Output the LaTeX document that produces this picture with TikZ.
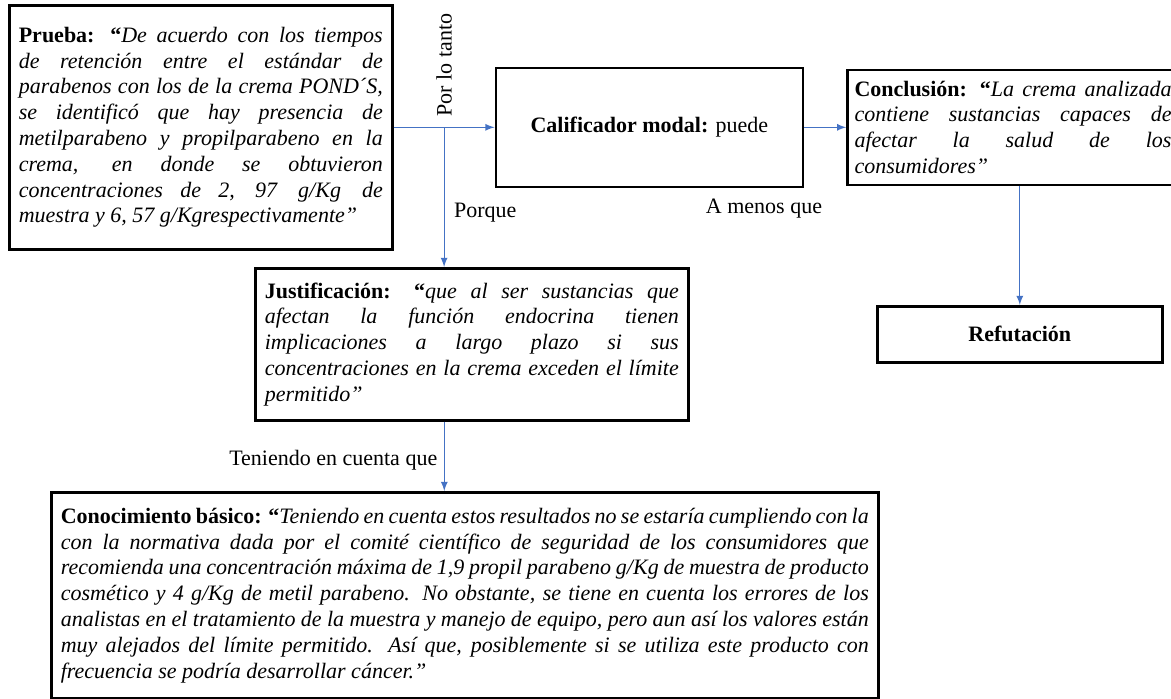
\documentclass[tikz,border=0pt]{standalone}
\usepackage{fontspec}
\setmainfont{Liberation Serif}
\usepackage{xcolor}
\usepackage{tikz}
\usetikzlibrary{arrows,positioning,calc}
\definecolor{linkblue}{HTML}{4472C4}
\newcommand{\jline}[1]{\makebox[\linewidth][s]{\spaceskip=0pt\xspaceskip=0pt\relax #1}}

\begin{document}
\begin{tikzpicture}[
    x=0.5pt, y=-0.5pt,
    txt/.style={font=\fontsize{11}{12.9}\selectfont},
    card/.style={rectangle, draw=black, line width=1.3pt, fill=white, txt, align=justify, inner xsep=4.75pt, inner ysep=0pt},
    arrow/.style={draw, -latex, line width=0.6pt, color=linkblue}
]

\useasboundingbox (0,0) rectangle (1171,698);

\node [card, anchor=north west, text width=182pt, minimum height=122pt] (prueba) at (8,4) {\itshape
\jline{\textup{\textbf{Prueba: “}}De acuerdo con los tiempos}\\
\jline{de retención entre el estándar de}\\
\jline{parabenos con los de la crema POND´S,}\\
\jline{se identificó que hay presencia de}\\
\jline{metilparabeno y propilparabeno en la}\\
\jline{crema, en donde se obtuvieron}\\
\jline{concentraciones de 2, 97 \,g/Kg\, de}\\
muestra y 6, 57 g/Kgrespectivamente”};
\node [card, right=50.5pt of prueba, minimum width=153.5pt, minimum height=59.5pt, align=center] (calif) {\textbf{Calificador modal:} puede};
\node [card, right=21pt of calif, text width=158.5pt, minimum height=57.5pt, inner xsep=3.5pt] (concl) {\itshape
\jline{\textup{\textbf{Conclusión: “}}La crema analizada}\\
\jline{contiene sustancias capaces de}\\
\jline{afectar la salud de los}\\
consumidores”};
\node [card, anchor=north west, text width=207pt, minimum height=76pt] (just) at (254,267) {\itshape
\jline{\textup{\textbf{Justificación: “}}que al ser sustancias que}\\
\jline{afectan la función endocrina tienen}\\
\jline{implicaciones a largo plazo si sus}\\
\jline{concentraciones en la crema exceden el límite}\\
permitido”};
\node [card, anchor=north west, minimum width=142.5pt, minimum height=28pt, align=center] (refut) at (876,305) {\textbf{Refutación}};
\node [card, anchor=north west, text width=404pt, minimum height=103pt] (conoc) at (50,491) {\itshape
\jline{\textup{\textbf{Conocimiento básico: “}}Teniendo en cuenta estos resultados no se estaría cumpliendo con la}\\
\jline{con la normativa dada por el comité científico de seguridad de los consumidores que}\\
\jline{recomienda una concentración máxima de 1,9 propil parabeno g/Kg de muestra de producto}\\
\jline{cosmético y 4 g/Kg de metil parabeno. No obstante, se tiene en cuenta los errores de los}\\
\jline{analistas en el tratamiento de la muestra y manejo de equipo, pero aun así los valores están}\\
\jline{muy alejados del límite permitido. Así que, posiblemente si se utiliza este producto con}\\
frecuencia se podría desarrollar cáncer.”};

\coordinate (split) at ($(prueba.east)!0.5!(calif.west)$);
\coordinate (drop) at ([xshift=-13.75pt]just.south);

\draw [arrow] (prueba.east) -- (calif.west);
\draw [arrow] (calif.east) -- (concl.west);
\draw [arrow] (split) -- (split |- just.north);
\draw [arrow] (concl.south -| refut.north) -- (refut.north);
\draw [arrow] (drop) -- (drop |- conoc.north);

\node [txt, rotate=90, anchor=west] (tanto) at ([yshift=2pt]split) {Por lo tanto};
\node [txt, anchor=west] (porque) at (447,213) {Porque};
\node [txt] (amenos) at (764,209) {A menos que};
\node [txt, anchor=east] (cuenta) at ($(drop)!0.55!(drop |- conoc.north)$) {Teniendo en cuenta que};

\end{tikzpicture}
\end{document}
